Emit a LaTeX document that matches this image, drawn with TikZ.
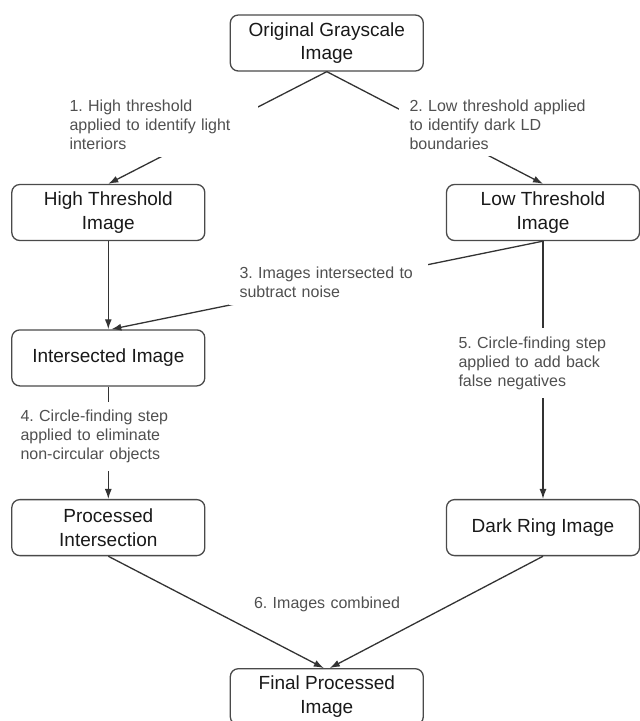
\documentclass[tikz,border=0pt]{standalone}
\usepackage{fontspec}
\setmainfont{Liberation Sans}
\usepackage{tikz}
\usetikzlibrary{arrows.meta}
\definecolor{linegray}{HTML}{333333}
\definecolor{boxgray}{HTML}{4A4A4A}
\definecolor{labelgray}{HTML}{505050}
\newcommand{\boxfont}{\fontsize{19}{23.3}\selectfont}
\newcommand{\stepfont}{\fontsize{16}{19.2}\selectfont\frenchspacing\hyphenpenalty=10000}

\begin{document}
\begin{tikzpicture}[x=1pt,y=-1pt,>={Latex[length=10pt,width=7pt]},
  imgbox/.style={draw=boxgray,line width=1.3pt,rounded corners=8pt,fill=white,
    minimum width=193pt,minimum height=56pt,inner sep=0pt,align=center,font=\boxfont,text=black!90},
  steplabel/.style={fill=white,text=labelgray,font=\stepfont,align=left,
    text width=178pt,inner xsep=10.5pt,inner ysep=0pt},
  flow/.style={->,draw=linegray,line width=1.3pt}]
  \useasboundingbox (0,0) rectangle (640,721);
  \node[imgbox] (orig) at (326.8,43) {Original Grayscale\\Image};
  \node[imgbox] (high) at (108.3,212.5) {High Threshold\\Image};
  \node[imgbox] (low) at (543,212.5) {Low Threshold\\Image};
  \node[imgbox] (inter) at (108.3,357.9) {Intersected Image};
  \node[imgbox] (proc) at (108.3,527.6) {Processed\\Intersection};
  \node[imgbox] (ring) at (543,527.6) {Dark Ring Image};
  \node[imgbox] (final) at (326.8,696.7) {Final Processed\\Image};

  \draw[flow] (orig.south) -- (high.north);
  \draw[flow] (orig.south) -- (low.north);
  \draw[flow] (high.south) -- (inter.north);
  \draw[flow] (low.south) -- ([xshift=3pt]inter.north);
  \draw[flow] (inter.south) -- (proc.north);
  \draw[flow] (low.south) -- (ring.north);
  \draw[flow] (proc.south) -- ([xshift=-3pt]final.north);
  \draw[flow] (ring.south) -- ([xshift=3pt]final.north);

  \node[steplabel,minimum height=64pt] (lab1) at (158.5,125) {1. High threshold\\applied to identify light\\interiors};
  \node[steplabel,minimum height=63pt] (lab2) at (498.5,124.5) {2. Low threshold applied\\to identify dark LD\\boundaries};
  \node[steplabel,minimum height=46pt] (lab3) at (328.5,282) {3. Images intersected to\\subtract noise};
  \node[steplabel,minimum height=69pt] (lab4) at (109.5,436.2) {4. Circle-finding step\\applied to eliminate\\non-circular objects};
  \node[steplabel,minimum height=70pt] (lab5) at (547.5,363.3) {5. Circle-finding step\\applied to add back\\false negatives};
  \node[steplabel,align=center,fill=none] (lab6) at (327,604) {6. Images combined};
\end{tikzpicture}
\end{document}
